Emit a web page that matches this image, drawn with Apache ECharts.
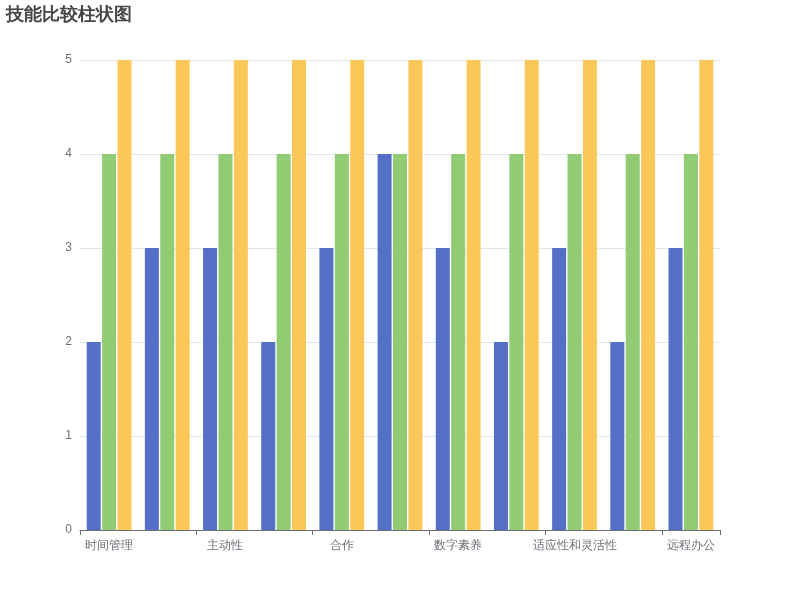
<!DOCTYPE html>
<html>
<head>
<meta charset="utf-8">
<script src="https://cdn.jsdelivr.net/npm/echarts@6/dist/echarts.min.js"></script>
<style>html,body{margin:0;padding:0;}#c{width:800px;height:600px;}</style>
</head>
<body>
<div id="c"></div>
<script>
var categories = ['时间管理', '沟通能力', '主动性', '解决问题', '合作', '领导力', '数字素养', '批判性思维', '适应性和灵活性', '创造力', '远程办公'];
var currentLevel = [2, 3, 3, 2, 3, 4, 3, 2, 3, 2, 3];
var targetLevel = [4, 4, 4, 4, 4, 4, 4, 4, 4, 4, 4];
var importance = [5, 5, 5, 5, 5, 5, 5, 5, 5, 5, 5];
var seriesNames = ['当前水平', '目标水平', '重要性'];

var chart = echarts.init(document.getElementById('c'));
chart.setOption({
  title: { text: '技能比较柱状图', left: 6, top: 6, padding: 0, textStyle: { fontSize: 18, fontWeight: 'bold', color: '#464646' } },
  grid: { left: 80, right: 80, top: 60, bottom: 70 },
  xAxis: {
    type: 'category', data: categories,
    axisLine: { lineStyle: { color: '#6e7079' } },
    axisTick: { show: true, lineStyle: { color: '#6e7079' } },
    axisLabel: { color: '#6e7079', fontSize: 12, margin: 10 }
  },
  yAxis: {
    type: 'value', min: 0, max: 5, interval: 1,
    axisLabel: { color: '#6e7079', fontSize: 12, padding: [2, 0, 0, 0] },
    splitLine: { lineStyle: { color: '#e0e6f1' } }
  },
  color: ['#5470c6', '#91cc75', '#fac858'],
  series: [
    { name: seriesNames[0], type: 'bar', data: currentLevel },
    { name: seriesNames[1], type: 'bar', data: targetLevel },
    { name: seriesNames[2], type: 'bar', data: importance }
  ]
});
</script>
</body>
</html>
